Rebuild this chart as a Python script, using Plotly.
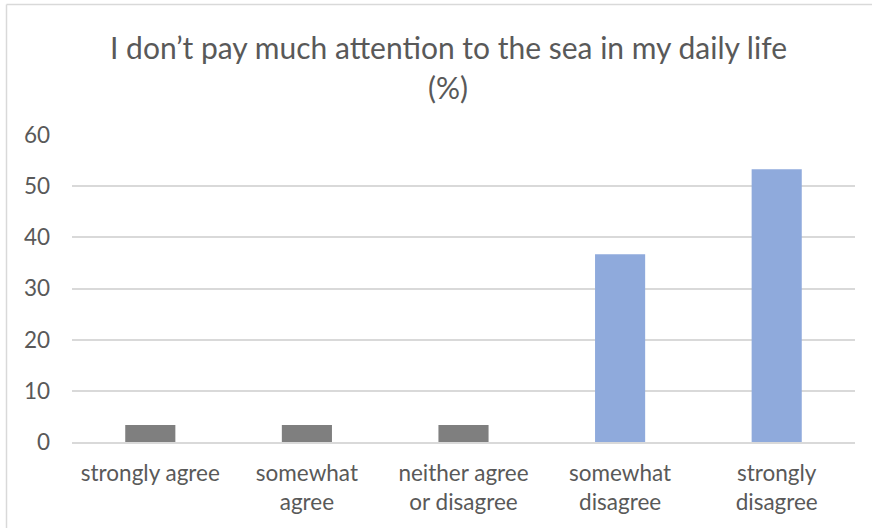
import plotly.graph_objects as go

# Survey responses (%)
categories = ["strongly agree", "somewhat agree", "neither agree or disagree",
              "somewhat disagree", "strongly disagree"]
tick_labels = ["strongly agree", "somewhat<br>agree", "neither agree<br>or disagree",
               "somewhat<br>disagree", "strongly<br>disagree"]
percentages = [3.33, 3.33, 3.33, 36.67, 53.33]
bar_colors = ["#7f7f7f", "#7f7f7f", "#7f7f7f", "#8faadc", "#8faadc"]

title_lines = ["I don\u2019t pay much attention to the sea in my daily life", "(%)"]

W, H = 872, 528
L, R, T, B = 72, 17, 135, 86
plot_h = H - T - B
plot_w = W - L - R


def px_to_paper_y(py):
    return (H - B - py) / plot_h


def px_to_paper_x(px):
    return (px - L) / plot_w


FONT = "Lato, 'Open Sans', sans-serif"
TEXT = "#595959"
GRID = "#d9d9d9"

fig = go.Figure(go.Bar(
    x=categories,
    y=percentages,
    marker=dict(color=bar_colors, line=dict(width=0)),
    hoverinfo="x+y",
))

fig.update_layout(
    width=W, height=H,
    margin=dict(l=L, r=R, t=T, b=B, pad=0),
    paper_bgcolor="white",
    plot_bgcolor="white",
    bargap=0.68,
    showlegend=False,
    font=dict(family=FONT, color=TEXT),
)

fig.update_xaxes(
    tickmode="array",
    tickvals=categories,
    ticktext=tick_labels,
    tickfont=dict(size=22.5, color=TEXT, family=FONT),
    showline=True, linecolor=GRID, linewidth=1.5,
    ticks="", showgrid=False,
    ticklabelstandoff=10,
)

fig.update_yaxes(
    range=[0, 60],
    tickvals=[0, 10, 20, 30, 40, 50, 60],
    tickfont=dict(size=22.5, color=TEXT, family=FONT),
    showgrid=True, gridcolor=GRID, gridwidth=1.5,
    zeroline=False, showline=False, ticks="",
    ticklabelstandoff=21,
)

# Two-line centred title
title_y_px = [47, 87]
for text, py in zip(title_lines, title_y_px):
    fig.add_annotation(
        text=text, xref="paper", yref="paper",
        x=px_to_paper_x(448), y=px_to_paper_y(py),
        xanchor="center", yanchor="middle", showarrow=False,
        font=dict(size=30, color=TEXT, family=FONT),
    )

# Chart-area frame (left and top edges)
fig.add_shape(type="line", xref="paper", yref="paper",
              x0=px_to_paper_x(6.5), x1=px_to_paper_x(W + 5),
              y0=px_to_paper_y(4.5), y1=px_to_paper_y(4.5),
              line=dict(color=GRID, width=1.5))
fig.add_shape(type="line", xref="paper", yref="paper",
              x0=px_to_paper_x(6.5), x1=px_to_paper_x(6.5),
              y0=px_to_paper_y(4.5), y1=px_to_paper_y(H + 5),
              line=dict(color=GRID, width=1.5))

fig.write_html("out.html")
